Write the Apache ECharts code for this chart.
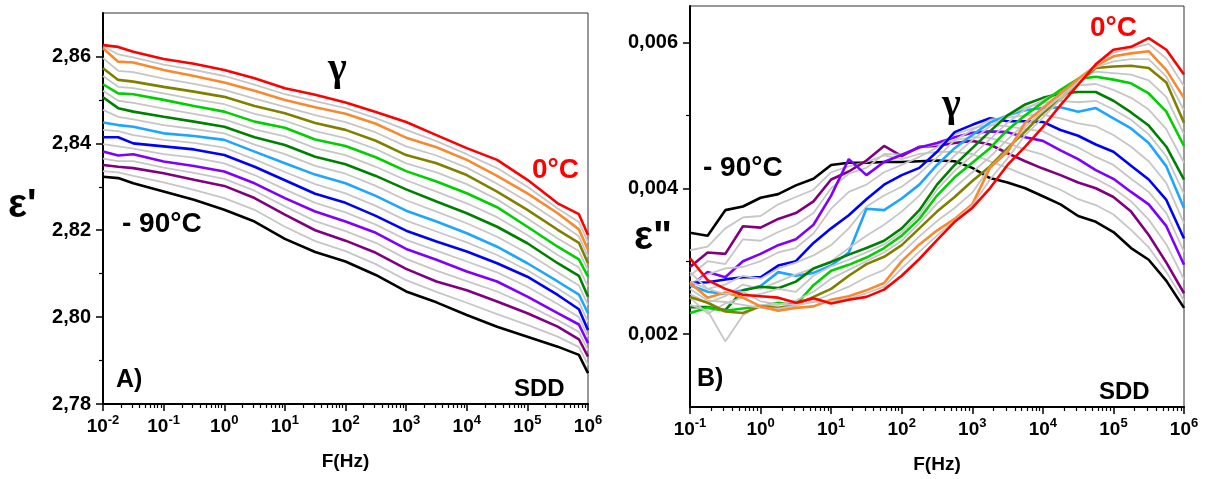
<!DOCTYPE html>
<html><head><meta charset="utf-8">
<script src="https://cdn.jsdelivr.net/npm/echarts@6/dist/echarts.min.js"></script>
<style>html,body{margin:0;padding:0;background:#fff}#c{width:1207px;height:479px}</style>
</head><body><div id="c"></div>
<script>
// ---------- Panel A : epsilon' vs F ----------
const freqA = [0.01, 0.0178, 0.0316, 0.1, 0.316, 1, 3.16, 10, 31.6, 100, 316, 1000, 3162, 10000, 31623, 100000, 316228, 707946, 1000000];
const epsA_0   = [2.8626, 2.8622, 2.8611, 2.8594, 2.8583, 2.8569, 2.8550, 2.8527, 2.8512, 2.8494, 2.8472, 2.8449, 2.8419, 2.8389, 2.8362, 2.8316, 2.8262, 2.8237, 2.8189];
const epsA_m5  = [2.8623, 2.8605, 2.8598, 2.8581, 2.8569, 2.8555, 2.8535, 2.8513, 2.8497, 2.8481, 2.8458, 2.8431, 2.8405, 2.8375, 2.8343, 2.8300, 2.8250, 2.8219, 2.8172];
const epsA_m10 = [2.8619, 2.8588, 2.8586, 2.8569, 2.8555, 2.8540, 2.8521, 2.8500, 2.8483, 2.8468, 2.8445, 2.8413, 2.8391, 2.8362, 2.8325, 2.8285, 2.8239, 2.8202, 2.8155];
const epsA_m15 = [2.8596, 2.8567, 2.8564, 2.8549, 2.8537, 2.8523, 2.8503, 2.8484, 2.8465, 2.8449, 2.8425, 2.8393, 2.8372, 2.8344, 2.8307, 2.8266, 2.8220, 2.8186, 2.8139];
const epsA_m20 = [2.8573, 2.8546, 2.8542, 2.8530, 2.8519, 2.8507, 2.8486, 2.8469, 2.8447, 2.8431, 2.8406, 2.8373, 2.8354, 2.8327, 2.8289, 2.8247, 2.8201, 2.8171, 2.8124];
const epsA_m25 = [2.8555, 2.8530, 2.8527, 2.8515, 2.8502, 2.8490, 2.8468, 2.8452, 2.8428, 2.8412, 2.8387, 2.8354, 2.8333, 2.8306, 2.8271, 2.8227, 2.8181, 2.8152, 2.8108];
const epsA_m30 = [2.8536, 2.8515, 2.8513, 2.8500, 2.8486, 2.8473, 2.8450, 2.8436, 2.8409, 2.8394, 2.8368, 2.8336, 2.8312, 2.8285, 2.8253, 2.8208, 2.8162, 2.8133, 2.8093];
const epsA_m35 = [2.8521, 2.8498, 2.8493, 2.8480, 2.8468, 2.8455, 2.8432, 2.8416, 2.8389, 2.8373, 2.8346, 2.8315, 2.8289, 2.8262, 2.8230, 2.8189, 2.8143, 2.8114, 2.8070];
const epsA_m40 = [2.8506, 2.8481, 2.8473, 2.8461, 2.8450, 2.8438, 2.8414, 2.8396, 2.8369, 2.8352, 2.8325, 2.8294, 2.8266, 2.8239, 2.8208, 2.8170, 2.8124, 2.8095, 2.8047];
const epsA_m45 = [2.8477, 2.8461, 2.8455, 2.8442, 2.8433, 2.8423, 2.8397, 2.8375, 2.8348, 2.8330, 2.8302, 2.8269, 2.8243, 2.8216, 2.8185, 2.8147, 2.8103, 2.8073, 2.8028];
const epsA_m50 = [2.8448, 2.8442, 2.8438, 2.8423, 2.8417, 2.8408, 2.8381, 2.8354, 2.8328, 2.8308, 2.8279, 2.8245, 2.8220, 2.8193, 2.8162, 2.8124, 2.8082, 2.8052, 2.8009];
const epsA_m55 = [2.8431, 2.8428, 2.8419, 2.8408, 2.8401, 2.8390, 2.8363, 2.8334, 2.8306, 2.8285, 2.8256, 2.8222, 2.8197, 2.8172, 2.8143, 2.8108, 2.8066, 2.8035, 2.7989];
const epsA_m60 = [2.8414, 2.8414, 2.8400, 2.8393, 2.8386, 2.8373, 2.8346, 2.8315, 2.8284, 2.8263, 2.8233, 2.8199, 2.8174, 2.8151, 2.8124, 2.8093, 2.8051, 2.8018, 2.7970];
const epsA_m65 = [2.8398, 2.8393, 2.8388, 2.8375, 2.8367, 2.8354, 2.8327, 2.8294, 2.8263, 2.8241, 2.8213, 2.8178, 2.8153, 2.8128, 2.8103, 2.8070, 2.8030, 2.8000, 2.7955];
const epsA_m70 = [2.8381, 2.8372, 2.8375, 2.8358, 2.8348, 2.8335, 2.8308, 2.8274, 2.8243, 2.8220, 2.8194, 2.8157, 2.8132, 2.8105, 2.8082, 2.8047, 2.8009, 2.7983, 2.7940];
const epsA_m75 = [2.8365, 2.8359, 2.8359, 2.8344, 2.8332, 2.8318, 2.8291, 2.8255, 2.8221, 2.8198, 2.8171, 2.8134, 2.8107, 2.8083, 2.8059, 2.8028, 2.7993, 2.7966, 2.7924];
const epsA_m80 = [2.8350, 2.8346, 2.8343, 2.8331, 2.8316, 2.8302, 2.8274, 2.8236, 2.8200, 2.8176, 2.8148, 2.8111, 2.8082, 2.8062, 2.8036, 2.8009, 2.7978, 2.7949, 2.7909];
const epsA_m85 = [2.8336, 2.8333, 2.8325, 2.8310, 2.8293, 2.8274, 2.8247, 2.8208, 2.8175, 2.8152, 2.8122, 2.8085, 2.8058, 2.8033, 2.8007, 2.7982, 2.7955, 2.7931, 2.7890];
const epsA_m90 = [2.8323, 2.8320, 2.8308, 2.8289, 2.8270, 2.8247, 2.8220, 2.8180, 2.8150, 2.8128, 2.8097, 2.8059, 2.8034, 2.8005, 2.7978, 2.7955, 2.7932, 2.7913, 2.7871];

// ---------- Panel B : epsilon'' vs F ----------
const freqB = [0.1, 0.1778, 0.3162, 0.5623, 1, 1.778, 3.162, 5.623, 10, 17.78, 31.62, 56.23, 100, 177.8, 316.2, 562.3, 1000, 1778, 3162, 5623, 10000, 17783, 31623, 56234, 100000, 177828, 316228, 562341, 1000000];
const lossB_0   = [0.00304, 0.00274, 0.00262, 0.00254, 0.00252, 0.00250, 0.00243, 0.00249, 0.00242, 0.00247, 0.00251, 0.00261, 0.00280, 0.00303, 0.00329, 0.00354, 0.00373, 0.00400, 0.00432, 0.00457, 0.00484, 0.00514, 0.00542, 0.00570, 0.00590, 0.00594, 0.00606, 0.00590, 0.00556];
const lossB_m5  = [0.00285, 0.00262, 0.00255, 0.00258, 0.00245, 0.00241, 0.00240, 0.00244, 0.00245, 0.00249, 0.00256, 0.00265, 0.00290, 0.00313, 0.00335, 0.00356, 0.00376, 0.00412, 0.00441, 0.00473, 0.00497, 0.00522, 0.00546, 0.00569, 0.00586, 0.00592, 0.00598, 0.00578, 0.00540];
const lossB_m10 = [0.00270, 0.00250, 0.00257, 0.00250, 0.00238, 0.00232, 0.00236, 0.00238, 0.00247, 0.00252, 0.00260, 0.00270, 0.00300, 0.00323, 0.00342, 0.00358, 0.00378, 0.00428, 0.00450, 0.00490, 0.00510, 0.00530, 0.00550, 0.00568, 0.00581, 0.00585, 0.00588, 0.00562, 0.00524];
const lossB_m15 = [0.00262, 0.00246, 0.00244, 0.00240, 0.00236, 0.00235, 0.00239, 0.00245, 0.00255, 0.00265, 0.00278, 0.00288, 0.00311, 0.00334, 0.00355, 0.00373, 0.00394, 0.00429, 0.00452, 0.00484, 0.00506, 0.00526, 0.00548, 0.00566, 0.00574, 0.00577, 0.00577, 0.00553, 0.00507];
const lossB_m20 = [0.00251, 0.00243, 0.00231, 0.00229, 0.00238, 0.00236, 0.00240, 0.00251, 0.00262, 0.00280, 0.00296, 0.00306, 0.00322, 0.00345, 0.00368, 0.00388, 0.00410, 0.00430, 0.00455, 0.00478, 0.00503, 0.00522, 0.00545, 0.00565, 0.00567, 0.00568, 0.00565, 0.00545, 0.00490];
const lossB_m25 = [0.00240, 0.00232, 0.00190, 0.00226, 0.00240, 0.00240, 0.00246, 0.00258, 0.00276, 0.00288, 0.00300, 0.00312, 0.00328, 0.00352, 0.00379, 0.00401, 0.00422, 0.00443, 0.00467, 0.00489, 0.00511, 0.00528, 0.00549, 0.00560, 0.00558, 0.00556, 0.00548, 0.00525, 0.00474];
const lossB_m30 = [0.00229, 0.00236, 0.00232, 0.00235, 0.00238, 0.00243, 0.00240, 0.00267, 0.00287, 0.00295, 0.00305, 0.00318, 0.00335, 0.00358, 0.00390, 0.00415, 0.00435, 0.00455, 0.00480, 0.00500, 0.00518, 0.00535, 0.00550, 0.00553, 0.00549, 0.00544, 0.00530, 0.00505, 0.00458];
const lossB_m35 = [0.00250, 0.00228, 0.00242, 0.00250, 0.00255, 0.00262, 0.00258, 0.00280, 0.00293, 0.00302, 0.00312, 0.00323, 0.00340, 0.00364, 0.00398, 0.00424, 0.00445, 0.00467, 0.00490, 0.00508, 0.00521, 0.00533, 0.00541, 0.00543, 0.00535, 0.00524, 0.00508, 0.00481, 0.00435];
const lossB_m40 = [0.00237, 0.00237, 0.00233, 0.00260, 0.00265, 0.00263, 0.00272, 0.00290, 0.00299, 0.00309, 0.00318, 0.00328, 0.00345, 0.00370, 0.00405, 0.00432, 0.00455, 0.00478, 0.00500, 0.00515, 0.00524, 0.00530, 0.00532, 0.00532, 0.00520, 0.00504, 0.00486, 0.00457, 0.00412];
const lossB_m45 = [0.00255, 0.00243, 0.00252, 0.00268, 0.00262, 0.00272, 0.00282, 0.00290, 0.00300, 0.00318, 0.00335, 0.00350, 0.00368, 0.00390, 0.00420, 0.00445, 0.00466, 0.00485, 0.00500, 0.00511, 0.00517, 0.00520, 0.00518, 0.00520, 0.00508, 0.00494, 0.00474, 0.00444, 0.00392];
const lossB_m50 = [0.00267, 0.00258, 0.00255, 0.00260, 0.00266, 0.00285, 0.00280, 0.00284, 0.00294, 0.00312, 0.00372, 0.00370, 0.00386, 0.00405, 0.00432, 0.00455, 0.00473, 0.00490, 0.00500, 0.00507, 0.00510, 0.00511, 0.00505, 0.00510, 0.00496, 0.00482, 0.00462, 0.00430, 0.00373];
const lossB_m55 = [0.00272, 0.00262, 0.00268, 0.00280, 0.00276, 0.00290, 0.00298, 0.00308, 0.00322, 0.00345, 0.00375, 0.00390, 0.00402, 0.00420, 0.00442, 0.00466, 0.00480, 0.00494, 0.00497, 0.00500, 0.00501, 0.00496, 0.00489, 0.00485, 0.00473, 0.00457, 0.00437, 0.00407, 0.00352];
const lossB_m60 = [0.00270, 0.00271, 0.00275, 0.00278, 0.00278, 0.00294, 0.00300, 0.00325, 0.00345, 0.00363, 0.00385, 0.00405, 0.00418, 0.00428, 0.00450, 0.00477, 0.00487, 0.00496, 0.00492, 0.00492, 0.00491, 0.00480, 0.00472, 0.00460, 0.00450, 0.00431, 0.00412, 0.00384, 0.00331];
const lossB_m65 = [0.00268, 0.00282, 0.00290, 0.00292, 0.00300, 0.00312, 0.00318, 0.00338, 0.00372, 0.00395, 0.00405, 0.00422, 0.00432, 0.00443, 0.00456, 0.00474, 0.00482, 0.00487, 0.00485, 0.00481, 0.00478, 0.00466, 0.00456, 0.00443, 0.00432, 0.00413, 0.00395, 0.00366, 0.00313];
const lossB_m70 = [0.00265, 0.00285, 0.00278, 0.00300, 0.00310, 0.00322, 0.00330, 0.00350, 0.00390, 0.00440, 0.00418, 0.00436, 0.00446, 0.00456, 0.00462, 0.00470, 0.00476, 0.00478, 0.00477, 0.00470, 0.00465, 0.00452, 0.00440, 0.00425, 0.00413, 0.00395, 0.00378, 0.00348, 0.00295];
const lossB_m75 = [0.00280, 0.00300, 0.00296, 0.00330, 0.00328, 0.00340, 0.00350, 0.00366, 0.00400, 0.00420, 0.00428, 0.00447, 0.00446, 0.00456, 0.00460, 0.00466, 0.00470, 0.00469, 0.00462, 0.00453, 0.00446, 0.00435, 0.00424, 0.00413, 0.00400, 0.00382, 0.00357, 0.00323, 0.00275];
const lossB_m80 = [0.00292, 0.00312, 0.00310, 0.00348, 0.00346, 0.00358, 0.00366, 0.00382, 0.00412, 0.00423, 0.00438, 0.00458, 0.00444, 0.00457, 0.00458, 0.00462, 0.00465, 0.00460, 0.00448, 0.00437, 0.00427, 0.00418, 0.00408, 0.00400, 0.00388, 0.00368, 0.00336, 0.00298, 0.00256];
const lossB_m85 = [0.00315, 0.00320, 0.00345, 0.00360, 0.00362, 0.00378, 0.00388, 0.00398, 0.00422, 0.00430, 0.00436, 0.00445, 0.00440, 0.00447, 0.00450, 0.00450, 0.00447, 0.00437, 0.00428, 0.00418, 0.00408, 0.00398, 0.00385, 0.00377, 0.00364, 0.00343, 0.00319, 0.00285, 0.00246];
const lossB_m90 = [0.00339, 0.00335, 0.00370, 0.00375, 0.00387, 0.00392, 0.00404, 0.00413, 0.00432, 0.00435, 0.00435, 0.00436, 0.00436, 0.00437, 0.00438, 0.00437, 0.00428, 0.00414, 0.00408, 0.00400, 0.00389, 0.00378, 0.00362, 0.00354, 0.00340, 0.00318, 0.00302, 0.00273, 0.00236];

// tick values
const decadesA = [0.01, 0.1, 1, 10, 100, 1000, 10000, 100000, 1000000];
const decadesB = [0.1, 1, 10, 100, 1000, 10000, 100000, 1000000];
const yTicksA = [2.78, 2.80, 2.82, 2.84, 2.86];
const yMinorA = [2.79, 2.81, 2.83, 2.85];
const yTicksB = [0.002, 0.004, 0.006];
const yMinorB = [0.003, 0.005];

// curve order: -90 ... 0 (drawn in this order)
const curvesA = [epsA_m90, epsA_m85, epsA_m80, epsA_m75, epsA_m70, epsA_m65, epsA_m60, epsA_m55, epsA_m50, epsA_m45, epsA_m40, epsA_m35, epsA_m30, epsA_m25, epsA_m20, epsA_m15, epsA_m10, epsA_m5, epsA_0];
const curvesB = [lossB_m90, lossB_m85, lossB_m80, lossB_m75, lossB_m70, lossB_m65, lossB_m60, lossB_m55, lossB_m50, lossB_m45, lossB_m40, lossB_m35, lossB_m30, lossB_m25, lossB_m20, lossB_m15, lossB_m10, lossB_m5, lossB_0];
const GRAY = '#c6c6c6';
const curveColors = ['#000000', GRAY, '#800080', GRAY, '#8000ff', GRAY, '#0000ff', GRAY, '#1ea5ff', GRAY, '#008000', GRAY, '#00d000', GRAY, '#808000', GRAY, '#f7892f', GRAY, '#ff0000'];

function minorLog(lo, hi) {
  const out = [];
  for (let e = lo; e < hi; e++) for (let m = 2; m <= 9; m++) out.push(+(m * Math.pow(10, e)).toPrecision(6));
  return out;
}
const minorA = minorLog(-2, 6);
const minorB = minorLog(-1, 6);

const FONT = 'Liberation Sans';
const rich = {
  b: { fontSize: 19, fontWeight: 'bold', fontFamily: FONT, color: '#000', lineHeight: 22, verticalAlign: 'bottom' },
  s: { fontSize: 13, fontWeight: 'bold', fontFamily: FONT, color: '#000', lineHeight: 13, verticalAlign: 'top' }
};
function expLabel(v) { return '{b|10}{s|' + Math.round(Math.log10(v)) + '}'; }

function mainX(grid, min, max, dec) {
  return {
    type: 'log', logBase: 10, gridIndex: grid, min: min, max: max, position: 'bottom',
    name: 'F(Hz)', nameLocation: 'middle', nameGap: 48,
    nameTextStyle: { fontFamily: FONT, fontWeight: 'bold', fontSize: 19, color: '#000' },
    axisLine: { show: true, onZero: false, lineStyle: { color: '#000', width: 2 } },
    axisTick: { show: true, inside: false, length: 7, customValues: dec, lineStyle: { color: '#000', width: 1.5 } },
    axisLabel: { show: true, customValues: dec, margin: 10, formatter: expLabel, rich: rich },
    splitLine: { show: false }, minorTick: { show: false }
  };
}
function minorX(grid, min, max, vals) {
  return {
    type: 'log', logBase: 10, gridIndex: grid, min: min, max: max, position: 'bottom',
    axisLine: { show: false },
    axisTick: { show: true, inside: false, length: 4, customValues: vals, lineStyle: { color: '#000', width: 1.2 } },
    axisLabel: { show: false }, splitLine: { show: false }
  };
}
function mainY(grid, min, max, ticks, fmt) {
  return {
    type: 'value', gridIndex: grid, min: min, max: max, position: 'left',
    axisLine: { show: true, onZero: false, lineStyle: { color: '#000', width: 2 } },
    axisTick: { show: true, inside: false, length: 7, customValues: ticks, lineStyle: { color: '#000', width: 1.5 } },
    axisLabel: { show: true, customValues: ticks, margin: 12, formatter: fmt,
      fontFamily: FONT, fontWeight: 'bold', fontSize: 20, color: '#000' },
    splitLine: { show: false }
  };
}
function minorY(grid, min, max, vals) {
  return {
    type: 'value', gridIndex: grid, min: min, max: max, position: 'left',
    axisLine: { show: false },
    axisTick: { show: true, inside: false, length: 4, customValues: vals, lineStyle: { color: '#000', width: 1.2 } },
    axisLabel: { show: false }, splitLine: { show: false }
  };
}

const series = [];
curvesA.forEach((ys, i) => {
  const gray = curveColors[i] === GRAY;
  series.push({
    type: 'line', xAxisIndex: 0, yAxisIndex: 0, symbol: 'none', silent: true,
    data: freqA.map((f, j) => [f, ys[j]]),
    lineStyle: { color: curveColors[i], width: gray ? 1.8 : 2.6 }, z: 2
  });
});
curvesB.forEach((ys, i) => {
  const gray = curveColors[i] === GRAY;
  series.push({
    type: 'line', xAxisIndex: 2, yAxisIndex: 2, symbol: 'none', silent: true,
    data: freqB.map((f, j) => [f, ys[j]]),
    lineStyle: { color: curveColors[i], width: gray ? 1.8 : 2.6 }, z: 2
  });
});

function txt(left, top, text, size, color, family) {
  return { type: 'text', left: left, top: top, z: 100,
    style: { text: text, fill: color || '#000', font: 'bold ' + size + 'px "' + (family || FONT) + '"' } };
}

const chart = echarts.init(document.getElementById('c'), null, { renderer: 'canvas' });
chart.setOption({
  animation: false,
  backgroundColor: '#fff',
  grid: [
    { left: 103, top: 13, width: 485, height: 391, show: true, borderColor: '#333', borderWidth: 1, backgroundColor: 'transparent' },
    { left: 690, top: 6, width: 494, height: 401, show: true, borderColor: '#333', borderWidth: 1, backgroundColor: 'transparent' }
  ],
  xAxis: [mainX(0, 0.01, 1e6, decadesA), minorX(0, 0.01, 1e6, minorA), mainX(1, 0.1, 1e6, decadesB), minorX(1, 0.1, 1e6, minorB)],
  yAxis: [
    mainY(0, 2.78, 2.87, yTicksA, v => v.toFixed(2).replace('.', ',')),
    minorY(0, 2.78, 2.87, yMinorA),
    mainY(1, 0.001, 0.0065, yTicksB, v => v.toFixed(3).replace('.', ',')),
    minorY(1, 0.001, 0.0065, yMinorB)
  ],
  series: series,
  graphic: [
    txt(8, 186, "\u03b5'", 40),
    txt(328, 50, '\u03b3', 40, '#000', 'Liberation Serif'),
    txt(532, 156, '0\u00b0C', 28, '#ff0000'),
    txt(122, 210, '- 90\u00b0C', 28),
    txt(116, 368, 'A)', 25),
    txt(514, 377, 'SDD', 24),
    txt(634, 218, '\u03b5"', 40),
    txt(942, 86, '\u03b3', 40, '#000', 'Liberation Serif'),
    txt(1090, 14, '0\u00b0C', 28, '#ff0000'),
    txt(703, 154, '- 90\u00b0C', 28),
    txt(697, 367, 'B)', 25),
    txt(1099, 380, 'SDD', 24)
  ]
});
</script>
</body></html>
